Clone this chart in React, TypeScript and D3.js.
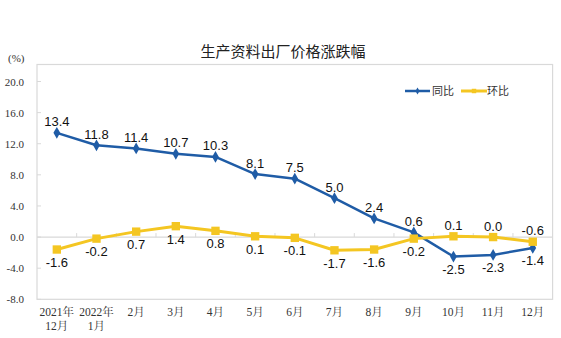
import React from "react";
import * as d3 from "d3";

const categories: string[][] = [
  ["2021年", "12月"],
  ["2022年", "1月"],
  ["2月"],
  ["3月"],
  ["4月"],
  ["5月"],
  ["6月"],
  ["7月"],
  ["8月"],
  ["9月"],
  ["10月"],
  ["11月"],
  ["12月"],
];
const yoyValues = [13.4, 11.8, 11.4, 10.7, 10.3, 8.1, 7.5, 5.0, 2.4, 0.6, -2.5, -2.3, -1.4];
const momValues = [-1.6, -0.2, 0.7, 1.4, 0.8, 0.1, -0.1, -1.7, -1.6, -0.2, 0.1, 0.0, -0.6];
const yTicks = [20, 16, 12, 8, 4, 0, -4, -8];
const seriesNames = ["同比", "环比"];
const title = "生产资料出厂价格涨跌幅";

const W = 561;
const H = 338;
const plot = { left: 37, right: 552.6, top: 64.5, bottom: 299.3 };
const BLUE = "#1F5CA6";
const YELLOW = "#F4C622";
const GRID = "#D9D9D9";
const SERIF = "'Liberation Serif', 'Times New Roman', 'Noto Serif CJK SC', serif";
const SANS = "'Liberation Sans', Arial, sans-serif";
const CJK = "'Noto Sans CJK SC', sans-serif";

const fmt = d3.formatLocale({
  decimal: ".",
  thousands: ",",
  grouping: [3],
  currency: ["", ""],
  minus: "-",
}).format(".1f");

export default function App() {
  const idx = categories.map((_, i) => String(i));
  const x = d3.scaleBand<string>().domain(idx).range([plot.left, plot.right]).padding(0);
  const y = d3.scaleLinear().domain([-8, 20]).range([299.3, 81.5]);
  const cx = (i: number) => (x(String(i)) as number) + x.bandwidth() / 2;

  const line = d3
    .line<number>()
    .x((_, i) => cx(i))
    .y((d) => y(d));

  const diamond = d3.symbol().type(d3.symbolDiamond).size(40)() as string;
  const square = d3.symbol().type(d3.symbolSquare).size(70)() as string;
  const legDiamond = d3.symbol().type(d3.symbolDiamond).size(14)() as string;
  const legSquare = d3.symbol().type(d3.symbolSquare).size(20)() as string;

  return (
    <svg
      width={W}
      height={H}
      style={{ position: "absolute", left: 0, top: 0, background: "#fff" }}
    >
      <rect x={0} y={0} width={W} height={H} fill="#fff" />
      {/* title */}
      <text x={283} y={57} textAnchor="middle" fontFamily={CJK} fontSize={15} fill="#222">
        {title}
      </text>
      <text x={8} y={61.5} fontFamily={SERIF} fontSize={11} fill="#333">
        (%)
      </text>

      {/* plot border */}
      <rect
        x={plot.left}
        y={plot.top}
        width={plot.right - plot.left}
        height={plot.bottom - plot.top}
        fill="none"
        stroke={GRID}
        strokeWidth={1.2}
      />
      {/* zero axis line */}
      <line x1={plot.left} x2={plot.right} y1={y(0)} y2={y(0)} stroke={GRID} strokeWidth={1.2} />
      {idx.slice(1).map((d) => (
        <line
          key={"ct" + d}
          x1={x(d) as number}
          x2={x(d) as number}
          y1={y(0)}
          y2={y(0) - 4}
          stroke={GRID}
          strokeWidth={1}
        />
      ))}

      {/* y ticks */}
      {yTicks.map((t) => (
        <g key={"yt" + t}>
          <line x1={plot.left} x2={plot.left + 4} y1={y(t)} y2={y(t)} stroke={GRID} strokeWidth={1} />
          <text
            x={24}
            y={y(t) + 4}
            textAnchor="end"
            fontFamily={SERIF}
            fontSize={11}
            fill="#333"
          >
            {fmt(t)}
          </text>
        </g>
      ))}

      {/* x labels */}
      {categories.map((c, i) => (
        <text
          key={"xl" + i}
          textAnchor="middle"
          fontFamily={SERIF}
          fontSize={11.5}
          fill="#333"
        >
          {c.map((s, j) => (
            <tspan key={j} x={cx(i)} y={315.5 + j * 14}>
              {s}
            </tspan>
          ))}
        </text>
      ))}

      {/* series lines */}
      <path d={line(yoyValues) as string} fill="none" stroke={BLUE} strokeWidth={2.5} strokeLinejoin="round" />
      <path d={line(momValues) as string} fill="none" stroke={YELLOW} strokeWidth={3} strokeLinejoin="round" />

      {yoyValues.map((v, i) => (
        <path key={"bm" + i} d={diamond} transform={`translate(${cx(i)},${y(v)})`} fill={BLUE} />
      ))}
      {momValues.map((v, i) => (
        <path key={"ym" + i} d={square} transform={`translate(${cx(i)},${y(v)})`} fill={YELLOW} />
      ))}

      {/* data labels */}
      {yoyValues.map((v, i) => {
        const above = v >= momValues[i];
        return (
          <text
            key={"bl" + i}
            x={cx(i)}
            y={y(v) + (above ? -6.5 : 17.5)}
            textAnchor="middle"
            fontFamily={SANS}
            fontSize={13}
            fill="#111"
          >
            {fmt(v)}
          </text>
        );
      })}
      {momValues.map((v, i) => {
        const above = v > yoyValues[i];
        return (
          <text
            key={"yl" + i}
            x={cx(i)}
            y={y(v) + (above ? -6.5 : 17.5)}
            textAnchor="middle"
            fontFamily={SANS}
            fontSize={13}
            fill="#111"
          >
            {fmt(v)}
          </text>
        );
      })}

      {/* legend */}
      <g>
        <line x1={405} x2={430} y1={91} y2={91} stroke={BLUE} strokeWidth={2.5} />
        <path d={legDiamond} transform="translate(417.5,91)" fill={BLUE} />
        <text x={432} y={95} fontFamily={CJK} fontSize={11} fill="#333">
          {seriesNames[0]}
        </text>
        <line x1={461} x2={487} y1={91} y2={91} stroke={YELLOW} strokeWidth={3} />
        <path d={legSquare} transform="translate(474,91)" fill={YELLOW} />
        <text x={487} y={95} fontFamily={CJK} fontSize={11} fill="#333">
          {seriesNames[1]}
        </text>
      </g>
    </svg>
  );
}
